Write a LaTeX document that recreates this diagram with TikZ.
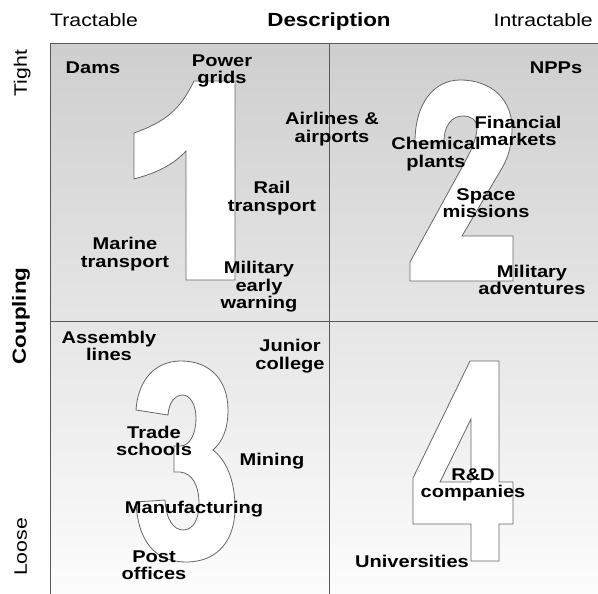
\documentclass[tikz,border=0pt]{standalone}
\usepackage{fontspec}
\setmainfont{Liberation Sans}[FakeStretch=1.18]

\begin{document}
\begin{tikzpicture}[x=1pt,y=-1pt,
    quad/.style={font=\bfseries\fontsize{17}{17.5}\selectfont,
                 align=center,inner sep=0pt},
    axis/.style={font=\fontsize{18}{20}\selectfont,inner sep=0pt},
    axisbold/.style={font=\bfseries\fontsize{19}{20}\selectfont,inner sep=0pt},
    digit/.style={fill=white,draw=black!60,line width=0.8pt,even odd rule},
    frame/.style={black!65,line width=1pt}]

  \useasboundingbox (0,0) rectangle (598,594);

  \shade [shading angle=-30,top color=black!19,bottom color=black!1]
  (50,44) rectangle (598,594);
  \draw [frame] (598,44) -- (50,44) -- (50,594);
  \draw [frame] (329,44) -- (329,594);
  \draw [frame] (50,321) -- (598,321);

  % big quadrant numbers
  \draw [digit] (194,81) .. controls (180,110) and (165,122) .. (134,133)
  -- (134,179) .. controls (160,172) and (175,163) .. (186,151)
  -- (186,280) -- (235,280) -- (235,81) -- cycle;

  \draw [digit] (415,142) .. controls (415,102) and (435,80) .. (460,80)
  .. controls (492,80) and (512,100) .. (512,128)
  .. controls (512,145) and (508,158) .. (502,168)
  -- (462,236) -- (513,236) -- (513,281) -- (410,281) -- (410,262)
  -- (466,160) .. controls (473,147) and (477,136) .. (477,127)
  .. controls (477,120) and (471,116) .. (463,116)
  .. controls (452,116) and (444,125) .. (444,142) -- cycle;

  \draw [digit] (136,410) .. controls (138,380) and (155,361) .. (181,361)
  .. controls (210,361) and (228,380) .. (228,410)
  .. controls (228,430) and (222,442) .. (213,450)
  .. controls (226,460) and (235,480) .. (235,508)
  .. controls (235,540) and (218,562) .. (186,562)
  .. controls (158,562) and (138,545) .. (136,502)
  -- (165,500) .. controls (166,520) and (174,530) .. (183,530)
  .. controls (194,530) and (199,518) .. (199,504)
  .. controls (199,485) and (192,473) .. (180,472)
  -- (174,472) -- (174,446) -- (180,446)
  .. controls (191,446) and (196,432) .. (196,418)
  .. controls (196,405) and (190,395) .. (183,395)
  .. controls (175,395) and (169,402) .. (168,415) -- cycle;

  \draw [digit] (470,361) -- (499,361) -- (499,482) -- (513,482)
  -- (513,524) -- (499,524) -- (499,561) -- (471,561) -- (471,524)
  -- (413,524) -- (413,478) -- cycle
  (471,419) -- (471,482) -- (440,482) -- cycle;

  % axes
  \node (tract) [axis,anchor=base west] at (50,27) {Tractable};
  \node (descr) [axisbold,anchor=base] at (329,27) {Description};
  \node (intract) [axis,anchor=base east] at (593,27) {Intractable};
  \node (tight) [axis,anchor=base,rotate=90] at (27,73) {Tight};
  \node (coupl) [axisbold,anchor=base,rotate=90] at (26,316) {Coupling};
  \node (loose) [axis,anchor=base,rotate=90] at (27,547) {Loose};

  % quadrant 1
  \node (dams) [quad] at (93,68) {Dams};
  \node (grids) [quad] at (222,71) {Power\\grids};
  \node (airlines) [quad] at (332,129) {Airlines \&\\airports};
  \node (rail) [quad] at (272,198) {Rail\\transport};
  \node (marine) [quad] at (125,254) {Marine\\transport};
  \node (warning) [quad] at (259,287) {Military\\early\\warning};

  % quadrant 2
  \node (npps) [quad] at (556,68) {NPPs};
  \node (finance) [quad] at (518,131) {Financial\\markets};
  \node (chem) [quad] at (436,154) {Chemical\\plants};
  \node (space) [quad] at (486,203) {Space\\missions};
  \node (advent) [quad] at (532,280) {Military\\adventures};

  % quadrant 3
  \node (assembly) [quad] at (109,346) {Assembly\\lines};
  \node (junior) [quad] at (290,356) {Junior\\college};
  \node (trade) [quad] at (154,441) {Trade\\schools};
  \node (mining) [quad] at (272,461) {Mining};
  \node (manuf) [quad] at (194,509) {Manufacturing};
  \node (post) [quad] at (154,565) {Post\\offices};

  % quadrant 4
  \node (rnd) [quad] at (473,485) {R\&D\\companies};
  \node (univ) [quad] at (412,561) {Universities};

\end{tikzpicture}
\end{document}
